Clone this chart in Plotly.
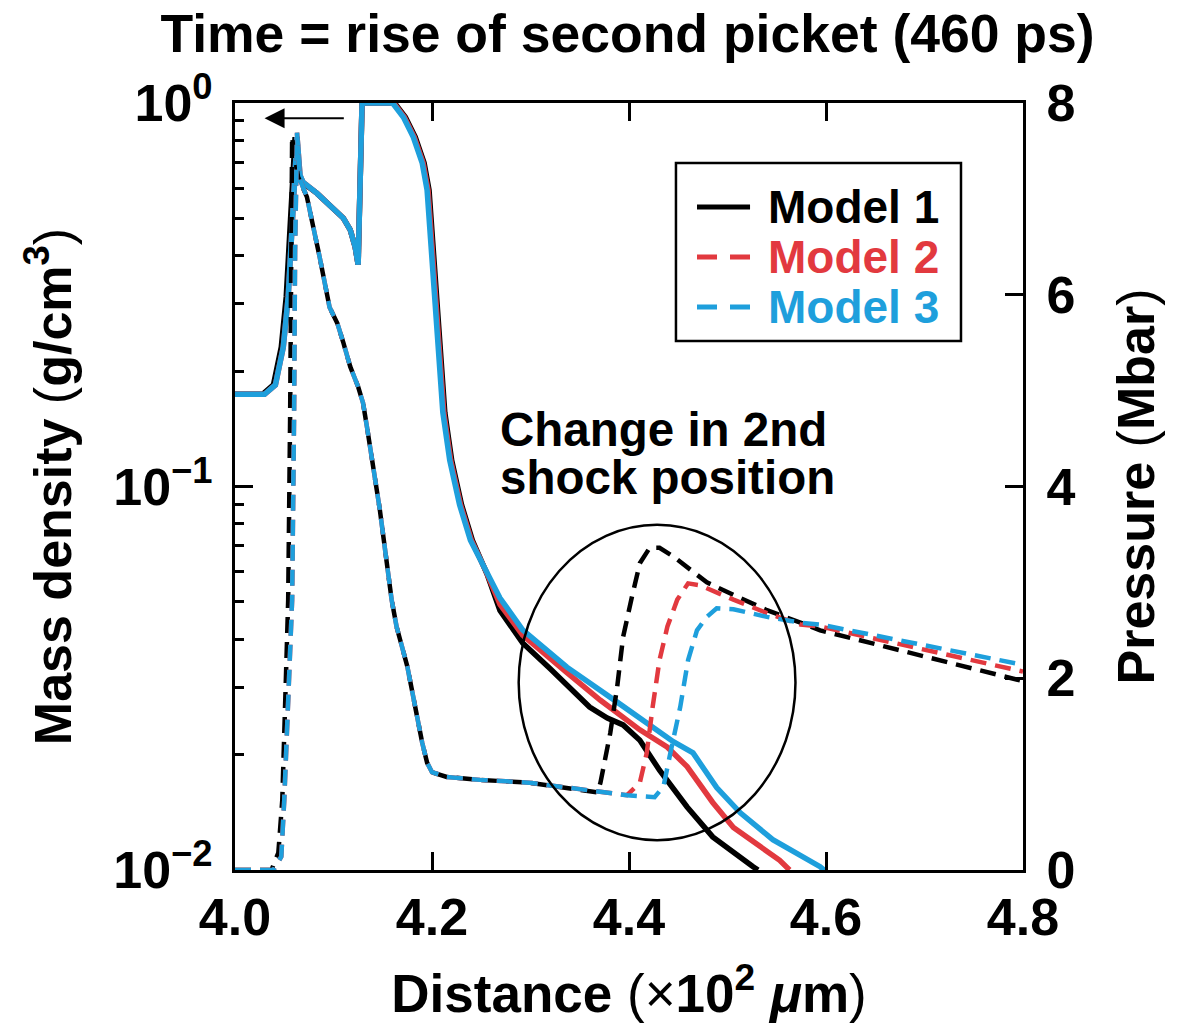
import plotly.graph_objects as go

# ---------------- data ----------------
# Mass density (g/cm^3), left log axis -- solid lines
x_rho_m1 = [4.000, 4.028, 4.039, 4.047, 4.052, 4.056, 4.059, 4.061, 4.064, 4.068, 4.083, 4.096, 4.110,
            4.117, 4.122, 4.125, 4.129, 4.162, 4.173, 4.183, 4.192, 4.197, 4.200, 4.205, 4.210, 4.213,
            4.220, 4.230, 4.241, 4.256, 4.269, 4.292, 4.320, 4.360, 4.378, 4.394, 4.411, 4.431, 4.459,
            4.485, 4.526, 4.531]
rho_m1 = [0.174, 0.174, 0.184, 0.231, 0.312, 0.467, 0.681, 0.815, 0.648, 0.622, 0.582, 0.542, 0.501,
          0.467, 0.421, 0.379, 1.0, 1.0, 0.918, 0.815, 0.698, 0.593, 0.467, 0.312, 0.210, 0.156,
          0.117, 0.0896, 0.0724, 0.0590, 0.0475, 0.0391, 0.0335, 0.0266, 0.0249, 0.0239, 0.0218, 0.0182, 0.0146,
          0.0122, 0.0102, 0.0100]

x_rho_m2 = [4.000, 4.030, 4.041, 4.049, 4.054, 4.058, 4.061, 4.063, 4.066, 4.069, 4.083, 4.096, 4.110,
            4.117, 4.122, 4.125, 4.129, 4.161, 4.172, 4.182, 4.191, 4.196, 4.199, 4.204, 4.209, 4.212,
            4.219, 4.229, 4.240, 4.255, 4.269, 4.292, 4.337, 4.371, 4.411, 4.439, 4.459, 4.485, 4.506,
            4.553, 4.563]
rho_m2 = [0.174, 0.174, 0.184, 0.231, 0.312, 0.467, 0.681, 0.815, 0.648, 0.622, 0.582, 0.542, 0.501,
          0.467, 0.421, 0.379, 1.0, 1.0, 0.918, 0.815, 0.698, 0.593, 0.467, 0.312, 0.210, 0.156,
          0.117, 0.0896, 0.0724, 0.0600, 0.0493, 0.0410, 0.0327, 0.0277, 0.0232, 0.0209, 0.0186, 0.0150, 0.0129,
          0.0106, 0.0100]

x_rho_m3 = [4.000, 4.030, 4.041, 4.049, 4.054, 4.058, 4.061, 4.063, 4.066, 4.069, 4.083, 4.096, 4.110,
            4.117, 4.122, 4.125, 4.129, 4.160, 4.171, 4.181, 4.190, 4.195, 4.198, 4.203, 4.208, 4.211,
            4.218, 4.228, 4.239, 4.254, 4.269, 4.292, 4.337, 4.388, 4.445, 4.465, 4.489, 4.513, 4.546,
            4.594, 4.600]
rho_m3 = [0.174, 0.174, 0.184, 0.231, 0.312, 0.467, 0.681, 0.815, 0.648, 0.622, 0.582, 0.542, 0.501,
          0.467, 0.421, 0.379, 1.0, 1.0, 0.918, 0.815, 0.698, 0.593, 0.467, 0.312, 0.210, 0.156,
          0.117, 0.0896, 0.0724, 0.0605, 0.0512, 0.0423, 0.0338, 0.0274, 0.0216, 0.0202, 0.0164, 0.0141, 0.0120,
          0.0102, 0.0099]

# Pressure (Mbar), right linear axis -- dashed lines
x_p_m1 = [4.000, 4.037, 4.044, 4.048, 4.051, 4.054, 4.056, 4.057, 4.058, 4.059, 4.064, 4.073, 4.079,
          4.086, 4.096, 4.104, 4.110, 4.117, 4.125, 4.130, 4.134, 4.147, 4.159, 4.164, 4.175, 4.183,
          4.190, 4.195, 4.200, 4.215, 4.249, 4.299, 4.350, 4.368, 4.371, 4.381, 4.388, 4.394, 4.403,
          4.411, 4.421, 4.431, 4.445, 4.462, 4.479, 4.506, 4.540, 4.574, 4.594, 4.800]
p_m1 = [0.0, 0.0, 0.18, 0.73, 1.77, 2.82, 4.77, 6.47, 7.65, 7.55, 7.23, 7.02, 6.75,
        6.39, 5.87, 5.70, 5.50, 5.25, 5.04, 4.87, 4.62, 3.76, 2.82, 2.54, 2.12, 1.67,
        1.33, 1.12, 1.02, 0.97, 0.94, 0.91, 0.84, 0.81, 0.91, 1.43, 1.91, 2.43, 2.85,
        3.20, 3.36, 3.36, 3.27, 3.13, 3.00, 2.87, 2.71, 2.58, 2.50, 1.97]

x_p_m2 = [4.000, 4.039, 4.047, 4.050, 4.054, 4.058, 4.060, 4.061, 4.063, 4.066, 4.073, 4.079,
          4.086, 4.096, 4.104, 4.110, 4.117, 4.125, 4.130, 4.134, 4.147, 4.159, 4.164, 4.175, 4.183,
          4.190, 4.195, 4.200, 4.215, 4.249, 4.299, 4.350, 4.368, 4.381, 4.398, 4.411, 4.418, 4.424,
          4.431, 4.439, 4.449, 4.460, 4.472, 4.506, 4.540, 4.574, 4.594, 4.800]
p_m2 = [0.0, 0.0, 0.14, 0.73, 1.77, 2.82, 4.77, 6.47, 7.69, 7.20, 7.02, 6.75,
        6.39, 5.87, 5.70, 5.50, 5.25, 5.04, 4.87, 4.62, 3.76, 2.82, 2.54, 2.12, 1.67,
        1.33, 1.12, 1.02, 0.97, 0.94, 0.91, 0.84, 0.81, 0.80, 0.78, 0.91, 1.22, 1.70,
        2.19, 2.54, 2.82, 2.99, 2.97, 2.82, 2.68, 2.56, 2.54, 2.07]

x_p_m3 = [4.000, 4.039, 4.047, 4.050, 4.054, 4.058, 4.060, 4.061, 4.063, 4.066, 4.073, 4.079,
          4.086, 4.096, 4.104, 4.110, 4.117, 4.125, 4.130, 4.134, 4.147, 4.159, 4.164, 4.175, 4.183,
          4.190, 4.195, 4.200, 4.215, 4.249, 4.299, 4.350, 4.368, 4.398, 4.426, 4.435, 4.442, 4.452,
          4.460, 4.469, 4.479, 4.489, 4.506, 4.540, 4.574, 4.594, 4.800]
p_m3 = [0.0, 0.0, 0.14, 0.73, 1.77, 2.82, 4.77, 6.47, 7.69, 7.20, 7.02, 6.75,
        6.39, 5.87, 5.70, 5.50, 5.25, 5.04, 4.87, 4.62, 3.76, 2.82, 2.54, 2.12, 1.67,
        1.33, 1.12, 1.02, 0.97, 0.94, 0.91, 0.84, 0.81, 0.78, 0.76, 0.87, 1.22, 1.70,
        2.19, 2.50, 2.64, 2.73, 2.72, 2.64, 2.58, 2.56, 2.14]

model_names = ["Model 1", "Model 2", "Model 3"]
x_ticks = [4.0, 4.2, 4.4, 4.6, 4.8]
x_tick_text = ["4.0", "4.2", "4.4", "4.6", "4.8"]
rho_ticks = [0.01, 0.1, 1.0]
rho_tick_text = ["10<sup>\u22122</sup>", "10<sup>\u22121</sup>", "10<sup>0</sup>"]
rho_minor_ticks = [0.02, 0.03, 0.04, 0.05, 0.06, 0.07, 0.08, 0.09,
                   0.2, 0.3, 0.4, 0.5, 0.6, 0.7, 0.8, 0.9]
p_ticks = [0, 2, 4, 6, 8]
note_lines = ["Change in 2nd", "shock position"]

# ---------------- style ----------------
BLACK = "#000000"
RED = "#e2393f"
BLUE = "#1e9fdc"
COLORS = [BLACK, RED, BLUE]
FONT = "Liberation Sans, Arial, Helvetica, sans-serif"
DASH = "16px,9px"

fig = go.Figure()

# density (solid)
for xs, ys, col, nm in [(x_rho_m1, rho_m1, BLACK, model_names[0]),
                        (x_rho_m2, rho_m2, RED, model_names[1]),
                        (x_rho_m3, rho_m3, BLUE, model_names[2])]:
    fig.add_trace(go.Scatter(x=xs, y=ys, mode="lines", yaxis="y",
                             line=dict(color=col, width=5.5),
                             name=nm + " density", showlegend=False))

# pressure (dashed)
for xs, ys, col, nm in [(x_p_m1, p_m1, BLACK, model_names[0]),
                        (x_p_m2, p_m2, RED, model_names[1]),
                        (x_p_m3, p_m3, BLUE, model_names[2])]:
    fig.add_trace(go.Scatter(x=xs, y=ys, mode="lines", yaxis="y2",
                             line=dict(color=col, width=4.5, dash=DASH),
                             name=nm + " pressure", showlegend=False))

axis_common = dict(showline=True, linewidth=3, linecolor="black", ticks="inside",
                   tickwidth=2.5, tickcolor="black", showgrid=False, zeroline=False,
                   automargin=False,
                   tickfont=dict(family=FONT, size=52, color="black", weight="bold"))

fig.update_layout(
    width=1184, height=1029,
    margin=dict(l=235, r=161, t=103, b=159),
    paper_bgcolor="white", plot_bgcolor="white",
    font=dict(family=FONT, color="black"),
    title=dict(text="<b>Time = rise of second picket (460 ps)</b>",
               font=dict(family=FONT, size=53.5, color="black"),
               x=0.53, xanchor="center", y=0.968, yanchor="middle", yref="container"),
    xaxis=dict(range=[4.0, 4.8], tickvals=x_ticks, ticktext=x_tick_text, ticklen=18,
               mirror="ticks", ticklabelstandoff=0,
               title=dict(text="<b>Distance <span style='font-weight:normal'>(\u00d7</span>10<sup>2</sup> <i>\u03bc</i>m<span style='font-weight:normal'>)</span></b>",
                          font=dict(family=FONT, size=53, color="black"), standoff=30),
               **axis_common),
    yaxis=dict(type="log", range=[-2, 0], tickvals=rho_ticks, ticktext=rho_tick_text,
               ticklen=18, ticklabelstandoff=9,
               minor=dict(ticks="inside", ticklen=9, tickwidth=2.5, tickcolor="black",
                          tickmode="array", tickvals=rho_minor_ticks),
               title=dict(text="<b>Mass density <span style='font-weight:normal'>(</span>g/cm<sup>3</sup><span style='font-weight:normal'>)</span></b>",
                          font=dict(family=FONT, size=52, color="black"), standoff=26),
               **axis_common),
    yaxis2=dict(overlaying="y", side="right", range=[0, 8], tickvals=p_ticks,
                ticklen=18, ticklabelstandoff=10,
                title=dict(text="<b>Pressure <span style='font-weight:normal'>(</span>Mbar<span style='font-weight:normal'>)</span></b>",
                           font=dict(family=FONT, size=52, color="black"), standoff=44),
                **axis_common),
    showlegend=False,
)

# ---- legend box (drawn manually to match the reference layout) ----
fig.add_shape(type="rect", xref="paper", yref="paper", x0=0.5596, x1=0.9213, y0=0.6897, y1=0.9218,
              line=dict(color="black", width=2.5), fillcolor="white", layer="above")
leg_rows = [0.8644, 0.7992, 0.7340]
leg_dash = ["solid", "20px,13px", "20px,13px"]
for nm, col, yy, dsh in zip(model_names, COLORS, leg_rows, leg_dash):
    fig.add_shape(type="line", xref="paper", yref="paper", x0=0.5863, x1=0.6536, y0=yy, y1=yy,
                  line=dict(color=col, width=5, dash=dsh), layer="above")
    fig.add_annotation(xref="paper", yref="paper", x=0.6740, y=yy, xanchor="left", yanchor="middle",
                       text=f"<b>{nm}</b>", showarrow=False,
                       font=dict(family=FONT, size=46, color=col))

# annotation ellipse around second shock
fig.add_shape(type="circle", xref="x", yref="y2", x0=4.288, x1=4.569, y0=0.31, y1=3.60,
              line=dict(color="black", width=2.5))

for txt, yy in zip(note_lines, [4.59, 4.09]):
    fig.add_annotation(xref="x", yref="y2", x=4.267, y=yy, xanchor="left", yanchor="middle",
                       text=f"<b>{txt}</b>", showarrow=False, align="left",
                       font=dict(family=FONT, size=47.5, color="black"))

# arrow pointing to the left axis
fig.add_annotation(xref="x", yref="y2", x=4.030, y=7.84, axref="x", ayref="y2",
                   ax=4.112, ay=7.84, text="", showarrow=True, arrowhead=2,
                   arrowsize=2, arrowwidth=2, arrowcolor="black")

fig.write_html("out.html")
